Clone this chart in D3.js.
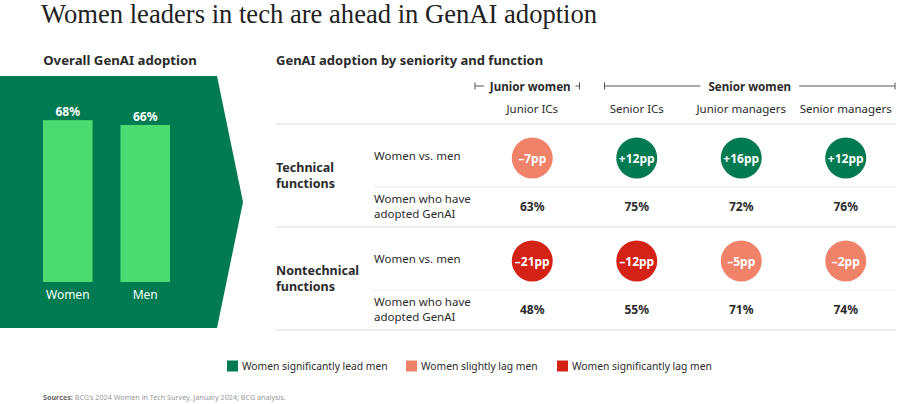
<!DOCTYPE html>
<html>
<head>
<meta charset="utf-8">
<script src="https://cdn.jsdelivr.net/npm/d3@7"></script>
<style>
  body { margin: 0; background: #fff; }
  svg text { font-family: "Noto Sans", sans-serif; fill: #2b2b2b; }
  .title { font-family: "Liberation Serif", serif; font-size: 26.6px; fill: #222; }
  .bold { font-weight: 700; }
</style>
</head>
<body>
<div id="chart"></div>
<script>
var svgWidth = 900;
var svgHeight = 404;

// overall adoption
var genders = ["Women", "Men"];
var overall = [68, 66];

// seniority columns and groups
var columns = ["Junior ICs", "Senior ICs", "Junior managers", "Senior managers"];
var groups = [
  { name: "Junior women", cols: ["Junior ICs"] },
  { name: "Senior women", cols: ["Senior ICs", "Junior managers", "Senior managers"] }
];

// functions
var functions = [["Technical", "functions"], ["Nontechnical", "functions"]];
var techDiff = [-7, 12, 16, 12];
var techAdopt = [63, 75, 72, 76];
var techCat = ["slight", "lead", "lead", "lead"];
var nonTechDiff = [-21, -12, -5, -2];
var nonTechAdopt = [48, 55, 71, 74];
var nonTechCat = ["sig", "sig", "slight", "slight"];

var legendLabels = ["Women significantly lead men", "Women slightly lag men", "Women significantly lag men"];
var legendKeys = ["lead", "slight", "sig"];

var colors = { lead: "#007A50", slight: "#F0826A", sig: "#D42216" };
var darkGreen = "#007A50";
var barGreen = "#4CDB70";
var ruleColor = "#dddddd";

var svg = d3.select("#chart")
  .append("svg")
  .attr("width", svgWidth)
  .attr("height", svgHeight);

// Title
svg.append("text")
  .attr("class", "title")
  .attr("x", 41)
  .attr("y", 23)
  .text("Women leaders in tech are ahead in GenAI adoption");

// ---------- Left panel ----------
svg.append("text")
  .attr("class", "bold")
  .attr("x", 120)
  .attr("y", 65)
  .attr("text-anchor", "middle")
  .style("font-size", "13.2px")
  .text("Overall GenAI adoption");

var panelTop = 76, panelBottom = 328, panelRight = 217, panelTip = 243;
svg.append("path")
  .attr("d", d3.line()([
    [0, panelTop], [panelRight, panelTop], [panelTip, (panelTop + panelBottom) / 2],
    [panelRight, panelBottom], [0, panelBottom]
  ]) + "Z")
  .attr("fill", darkGreen);

var xBar = d3.scaleBand()
  .domain(genders)
  .range([43, 170])
  .paddingInner(0.36);

var yBar = d3.scaleLinear()
  .domain([0, 100])
  .range([282, 44]);

var barsGroup = svg.append("g");
barsGroup.selectAll("rect")
  .data(genders)
  .enter()
  .append("rect")
  .attr("x", d => xBar(d))
  .attr("y", (d, i) => yBar(overall[i]))
  .attr("width", xBar.bandwidth())
  .attr("height", (d, i) => yBar(0) - yBar(overall[i]))
  .attr("fill", barGreen);

barsGroup.selectAll(".val")
  .data(genders)
  .enter()
  .append("text")
  .attr("class", "bold")
  .attr("x", d => xBar(d) + xBar.bandwidth() / 2)
  .attr("y", (d, i) => yBar(overall[i]) - 4)
  .attr("text-anchor", "middle")
  .style("font-size", "12px")
  .style("fill", "#fff")
  .text((d, i) => overall[i] + "%");

barsGroup.selectAll(".lab")
  .data(genders)
  .enter()
  .append("text")
  .attr("x", d => xBar(d) + xBar.bandwidth() / 2)
  .attr("y", yBar(0) + 17)
  .attr("text-anchor", "middle")
  .style("font-size", "12px")
  .style("fill", "#fff")
  .text(d => d);

// ---------- Right panel ----------
svg.append("text")
  .attr("class", "bold")
  .attr("x", 276)
  .attr("y", 65)
  .style("font-size", "13px")
  .text("GenAI adoption by seniority and function");

var xCol = d3.scaleBand()
  .domain(columns)
  .range([480, 898]);

var colCenter = d => xCol(d) + xCol.bandwidth() / 2;

// group brackets
var bracketY = 86;
groups.forEach(function(g, gi) {
  var x0 = xCol(g.cols[0]) + (gi === 0 ? -5 : 20);
  var x1 = xCol(g.cols[g.cols.length - 1]) + xCol.bandwidth() - (gi === 0 ? 5 : 3);
  var mid = (x0 + x1) / 2 + (gi === 0 ? 3 : 0);
  var lbl = svg.append("text")
    .attr("class", "bold")
    .attr("x", mid)
    .attr("y", bracketY + 4.5)
    .attr("text-anchor", "middle")
    .style("font-size", "11.6px")
    .text(g.name);
  var w = lbl.node().getComputedTextLength();
  var gap = gi === 0 ? 6 : 8;
  var br = svg.append("g").attr("stroke", "#555").attr("stroke-width", 1);
  br.append("line").attr("x1", x0).attr("x2", Math.max(x0 + 4, mid - w / 2 - gap)).attr("y1", bracketY).attr("y2", bracketY);
  br.append("line").attr("x1", Math.min(x1 - 4, mid + w / 2 + gap)).attr("x2", x1).attr("y1", bracketY).attr("y2", bracketY);
  br.append("line").attr("x1", x0).attr("x2", x0).attr("y1", bracketY - 3.5).attr("y2", bracketY + 3.5);
  br.append("line").attr("x1", x1).attr("x2", x1).attr("y1", bracketY - 3.5).attr("y2", bracketY + 3.5);
});

// column headers
svg.selectAll(".colhead")
  .data(columns)
  .enter()
  .append("text")
  .attr("x", colCenter)
  .attr("y", 113)
  .attr("text-anchor", "middle")
  .style("font-size", "11.5px")
  .text(d => d);

// rows
var yFunc = d3.scaleBand()
  .domain(functions.map(f => f[0]))
  .range([124, 330]);

var rowData = [
  { diff: techDiff, adopt: techAdopt, cat: techCat },
  { diff: nonTechDiff, adopt: nonTechAdopt, cat: nonTechCat }
];

svg.append("line")
  .attr("x1", 276).attr("x2", 896)
  .attr("y1", yFunc.range()[0]).attr("y2", yFunc.range()[0])
  .attr("stroke", ruleColor);

functions.forEach(function(f, fi) {
  var y0 = yFunc(f[0]);
  var h = yFunc.bandwidth();
  var diffY = y0 + 34;
  var sepY = y0 + 63;
  var adoptY = y0 + 83;
  var d = rowData[fi];

  // function label
  var fl = svg.append("text")
    .attr("class", "bold")
    .attr("x", 276)
    .attr("y", y0 + 48)
    .style("font-size", "12.5px");
  fl.selectAll("tspan")
    .data(f)
    .enter()
    .append("tspan")
    .attr("x", 276)
    .attr("dy", (t, i) => i === 0 ? 0 : 16)
    .text(t => t);

  svg.append("text")
    .attr("x", 374)
    .attr("y", diffY + 2)
    .style("font-size", "11.5px")
    .text("Women vs. men");

  var al = svg.append("text")
    .attr("x", 374)
    .attr("y", adoptY - 4)
    .style("font-size", "11.5px");
  al.append("tspan").attr("x", 374).text("Women who have");
  al.append("tspan").attr("x", 374).attr("dy", 15).text("adopted GenAI");

  svg.append("line")
    .attr("x1", 374).attr("x2", 896)
    .attr("y1", sepY).attr("y2", sepY)
    .attr("stroke", "#ececec");

  svg.append("line")
    .attr("x1", 276).attr("x2", 896)
    .attr("y1", y0 + h).attr("y2", y0 + h)
    .attr("stroke", ruleColor);

  var circ = svg.append("g");
  circ.selectAll("circle")
    .data(columns)
    .enter()
    .append("circle")
    .attr("cx", colCenter)
    .attr("cy", diffY)
    .attr("r", 20.5)
    .attr("fill", (c, i) => colors[d.cat[i]]);

  circ.selectAll("text")
    .data(columns)
    .enter()
    .append("text")
    .attr("class", "bold")
    .attr("x", colCenter)
    .attr("y", diffY + 4.5)
    .attr("text-anchor", "middle")
    .style("font-size", "12px")
    .style("fill", "#fff")
    .text((c, i) => (d.diff[i] > 0 ? "+" : "\u2013") + Math.abs(d.diff[i]) + "pp");

  svg.append("g").selectAll("text")
    .data(columns)
    .enter()
    .append("text")
    .attr("class", "bold")
    .attr("x", colCenter)
    .attr("y", adoptY + 4)
    .attr("text-anchor", "middle")
    .style("font-size", "12px")
    .text((c, i) => d.adopt[i] + "%");
});

// ---------- Legend ----------
var legendY = 366;
var legendX = [227, 406, 557];
var legend = svg.append("g");
legendKeys.forEach(function(k, i) {
  legend.append("rect")
    .attr("x", legendX[i])
    .attr("y", legendY - 5.5)
    .attr("width", 11)
    .attr("height", 11)
    .attr("fill", colors[k]);
  legend.append("text")
    .attr("x", legendX[i] + 15)
    .attr("y", legendY + 4)
    .style("font-size", "10.3px")
    .text(legendLabels[i]);
});

// ---------- Sources ----------
var src = svg.append("text")
  .attr("x", 43)
  .attr("y", 400)
  .style("font-size", "7.2px")
  .style("fill", "#888");
src.append("tspan").attr("class", "bold").style("fill", "#666").text("Sources: ");
src.append("tspan").style("fill", "#999").text("BCG\u2019s 2024 Women in Tech Survey, January 2024; BCG analysis.");
</script>
</body>
</html>
